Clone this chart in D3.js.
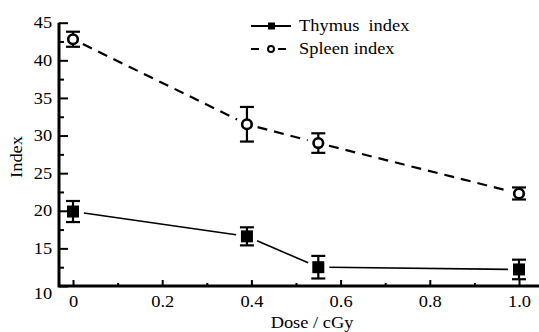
<!DOCTYPE html>
<html><head><meta charset="utf-8">
<script src="https://cdn.jsdelivr.net/npm/d3@7"></script>
<style>body{margin:0;background:#fff}svg{display:block}</style>
</head><body><svg id="c" width="539" height="332"></svg>
<script>
const doses = [0, 0.39, 0.55, 1.0];
const thymus = [19.9, 16.6, 12.5, 12.2];
const thymusErr = [1.4, 1.2, 1.5, 1.3];
const spleen = [42.8, 31.5, 29.0, 22.3];
const spleenErr = [1.0, 2.3, 1.3, 0.8];
const xMajor = [0, 0.2, 0.4, 0.6, 0.8, 1.0];
const xMinor = [0.1, 0.3, 0.5, 0.7, 0.9];
const yMajor = [10, 15, 20, 25, 30, 35, 40, 45];
const yMinor = [12.5, 17.5, 22.5, 27.5, 32.5, 37.5, 42.5];
const xLabels = ["0", "0.2", "0.4", "0.6", "0.8", "1.0"];

const FONT = "Liberation Serif";
const FS = 16, SX = 1.15;
const svg = d3.select("#c");
const x = d3.scaleLinear().domain([0, 1]).range([73, 519]);
const y = d3.scaleLinear().domain([10, 45]).range([286, 22.7]);
const x0 = 59, x1 = 539;

// axes
const gx = svg.append("g").attr("transform", `translate(0,${y(10)})`);
gx.call(d3.axisBottom(x).tickValues(xMajor).tickFormat((d,i)=>xLabels[i]).tickSize(-6).tickPadding(10))
  .call(g=>g.select(".domain").remove());
gx.selectAll("line").attr("stroke-width", 2);
gx.selectAll("text").attr("transform", `scale(${SX},1)`);
const gxm = svg.append("g").attr("transform", `translate(0,${y(10)})`);
gxm.call(d3.axisBottom(x).tickValues(xMinor).tickFormat("").tickSize(-3)).call(g=>g.select(".domain").remove());
gxm.selectAll("line").attr("stroke-width", 2);

const gy = svg.append("g").attr("transform", `translate(${x0},0)`);
gy.call(d3.axisLeft(y).tickValues(yMajor).tickSize(-9).tickPadding(6))
  .call(g=>g.select(".domain").remove());
gy.selectAll("line").attr("stroke-width", 2);
gy.selectAll("text").attr("transform", `scale(${SX},1)`);
gy.selectAll(".tick").filter(d=>d===10).select("text").attr("dy", "0.75em");
const gym = svg.append("g").attr("transform", `translate(${x0},0)`);
gym.call(d3.axisLeft(y).tickValues(yMinor).tickFormat("").tickSize(-5)).call(g=>g.select(".domain").remove());
gym.selectAll("line").attr("stroke-width", 2);

svg.append("path").attr("d", `M${x0},${y(45)}V${y(10)}H${x1}`).attr("fill","none").attr("stroke","#000").attr("stroke-width",3);

// titles
svg.append("text").attr("transform", `translate(312,328) scale(${SX},1)`).attr("text-anchor","middle").text("Dose / cGy");
svg.append("text").attr("transform",`translate(22,157) rotate(-90) scale(${SX},1)`).attr("text-anchor","middle").text("Index");

// series
function trimmedSegments(vals, gap) {
  const segs = [];
  for (let i = 0; i < vals.length - 1; i++) {
    const ax = x(doses[i]), ay = y(vals[i]), bx = x(doses[i+1]), by = y(vals[i+1]);
    const dx = bx-ax, dy = by-ay, L = Math.hypot(dx, dy);
    segs.push([ax+dx/L*gap, ay+dy/L*gap, bx-dx/L*gap, by-dy/L*gap]);
  }
  return segs;
}
function drawSeries(vals, errs, dashed, marker) {
  const g = svg.append("g");
  g.selectAll("line.seg").data(trimmedSegments(vals, 11)).join("line")
    .attr("x1", d=>d[0]).attr("y1", d=>d[1]).attr("x2", d=>d[2]).attr("y2", d=>d[3])
    .attr("stroke","#000").attr("stroke-width", dashed?2.2:1.6)
    .attr("stroke-dasharray", dashed?"10,7":null);
  const eb = g.selectAll("g.eb").data(vals).join("g");
  eb.append("line").attr("x1",(d,i)=>x(doses[i])).attr("x2",(d,i)=>x(doses[i]))
    .attr("y1",(d,i)=>y(d+errs[i])).attr("y2",(d,i)=>y(d-errs[i])).attr("stroke","#000").attr("stroke-width",2.2);
  [1,-1].forEach(s=>{
    eb.append("line").attr("x1",(d,i)=>x(doses[i])-7).attr("x2",(d,i)=>x(doses[i])+7)
      .attr("y1",(d,i)=>y(d+s*errs[i])).attr("y2",(d,i)=>y(d+s*errs[i])).attr("stroke","#000").attr("stroke-width",2.2);
  });
  if (marker === "square") {
    eb.append("rect").attr("x",(d,i)=>x(doses[i])-6).attr("y",d=>y(d)-6).attr("width",12).attr("height",12).attr("fill","#000");
  } else {
    eb.append("circle").attr("cx",(d,i)=>x(doses[i])).attr("cy",d=>y(d)).attr("r",4.8).attr("fill","#fff").attr("stroke","#000").attr("stroke-width",2.6);
  }
}
drawSeries(spleen, spleenErr, true, "circle");
drawSeries(thymus, thymusErr, false, "square");

// legend
const leg = [{name:"Thymus\u00a0 index", dashed:false, marker:"square", yy:26},
             {name:"Spleen index", dashed:true, marker:"circle", yy:49}];
leg.forEach(l=>{
  const g = svg.append("g");
  g.append("line").attr("x1",251).attr("x2",291).attr("y1",l.yy).attr("y2",l.yy).attr("stroke","#000")
    .attr("stroke-width",2).attr("stroke-dasharray", l.dashed?"8,5,0,14,8,5":"");
  if (l.marker==="square") g.append("rect").attr("x",268).attr("y",l.yy-3.5).attr("width",7).attr("height",7).attr("fill","#000");
  else g.append("circle").attr("cx",271).attr("cy",l.yy).attr("r",3).attr("fill","#fff").attr("stroke","#000").attr("stroke-width",2);
  g.append("text").attr("transform",`translate(299,${l.yy+5}) scale(${SX},1)`).text(l.name);
});

svg.selectAll("text").attr("font-family", FONT).attr("font-size", FS).attr("fill", "#000");
</script></body></html>
